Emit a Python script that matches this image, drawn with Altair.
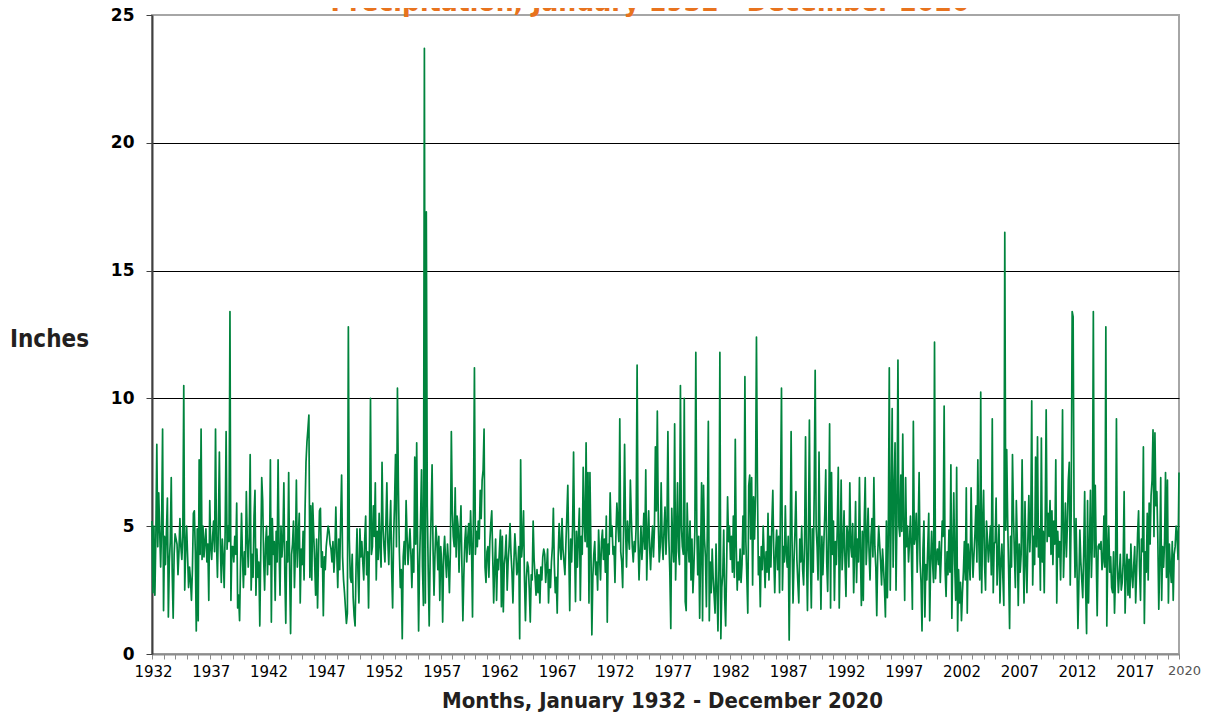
import altair as alt
import pandas as pd

# Monthly precipitation (inches), January 1932 - December 2020
precip_1930s = [
    5.2, 2.4, 5.0, 2.3, 4.6, 8.2, 4.2, 6.3, 4.8, 3.4, 5.0, 8.8,   # 1932
    1.7, 4.6, 3.5, 4.8, 6.1, 1.45, 3.6, 4.4, 6.9, 3.2, 1.4, 3.9,  # 1933
    4.7, 4.5, 4.3, 3.1, 4.0, 5.3, 4.2, 3.7, 4.6, 10.5, 2.5, 4.1,  # 1934
    5.0, 3.8, 2.6, 3.4, 2.9, 2.1, 3.3, 5.5, 5.6, 4.0, 0.9, 4.9,   # 1935
    1.3, 7.6, 3.9, 8.8, 3.7, 5.0, 3.8, 4.4, 4.9, 3.6, 4.3, 2.1,   # 1936
    6.0, 4.2, 3.7, 4.6, 5.2, 4.0, 8.8, 4.4, 3.0, 5.1, 7.9, 4.3,   # 1937
    2.8, 4.5, 3.8, 2.6, 4.8, 8.7, 4.1, 5.0, 4.4, 13.4, 2.1, 4.2,  # 1938
    4.2, 3.6, 4.6, 3.9, 5.9, 1.8, 2.3, 1.3, 3.5, 5.5, 3.8, 2.6,   # 1939
]
precip_1940s = [
    4.0, 3.1, 6.35, 4.5, 3.4, 4.6, 7.8, 2.5, 3.9, 3.0, 5.4, 6.4,  # 1940
    2.3, 4.1, 3.0, 3.6, 1.1, 4.0, 6.9, 6.0, 3.7, 2.5, 4.3, 5.0,   # 1941
    3.1, 4.6, 3.5, 7.6, 1.25, 5.3, 3.9, 4.4, 2.1, 4.8, 3.6, 7.6,  # 1942
    4.2, 2.3, 5.0, 3.8, 4.5, 6.7, 3.1, 1.2, 4.4, 3.6, 7.1, 3.3,   # 1943
    0.8, 3.9, 4.3, 5.2, 2.6, 4.0, 6.8, 3.4, 4.6, 5.5, 2.0, 4.1,   # 1944
    3.5, 4.8, 2.9, 5.6, 7.5, 8.3, 8.8, 9.35, 3.0, 5.8, 2.9, 5.9,  # 1945
    4.7, 3.6, 2.3, 4.5, 1.8, 3.9, 5.6, 5.7, 3.4, 4.0, 1.5, 3.8,   # 1946
    3.3, 4.2, 4.6, 5.0, 4.8, 4.3, 4.1, 3.6, 4.4, 3.2, 4.0, 5.75,  # 1947
    3.9, 2.6, 4.5, 3.3, 5.2, 7.0, 3.8, 2.9, 2.4, 1.8, 1.2, 1.6,   # 1948
    12.8, 4.5, 3.0, 2.8, 3.9, 2.2, 1.5, 1.1, 3.4, 4.9, 3.2, 2.0,  # 1949
]
precip_1950s = [
    4.9, 3.8, 4.4, 3.6, 2.9, 4.5, 5.4, 3.1, 4.0, 1.8, 4.6, 10.0,  # 1950
    3.9, 4.2, 5.8, 4.6, 6.7, 2.9, 4.8, 3.7, 5.5, 4.2, 3.4, 7.5,   # 1951
    5.0, 4.2, 3.6, 5.1, 6.7, 4.4, 3.5, 4.8, 6.0, 3.3, 1.8, 4.5,   # 1952
    5.9, 7.8, 4.2, 10.4, 6.5, 4.0, 2.6, 3.3, 0.6, 3.8, 4.4, 3.5,  # 1953
    6.0, 4.6, 3.5, 4.2, 4.9, 3.9, 2.6, 4.1, 3.2, 7.7, 4.3, 8.26,  # 1954
    4.0, 0.9, 3.6, 5.2, 7.2, 3.4, 1.9, 23.7, 2.0, 17.3, 5.8, 3.2, # 1955
    1.1, 3.8, 5.5, 7.4, 4.1, 2.3, 3.9, 5.0, 4.4, 3.3, 4.6, 2.1,   # 1956
    4.2, 3.5, 1.25, 3.9, 4.6, 3.7, 3.0, 4.3, 3.6, 2.4, 4.0, 8.7,  # 1957
    5.6, 4.6, 4.2, 6.5, 3.8, 5.4, 5.0, 3.2, 4.7, 5.8, 3.4, 1.3,   # 1958
    3.1, 4.4, 5.0, 3.6, 4.5, 5.1, 3.9, 5.6, 4.2, 1.45, 5.7, 11.2, # 1959
]
precip_1960s = [
    3.9, 4.8, 4.2, 5.2, 4.5, 6.4, 5.3, 6.8, 7.2, 8.8, 3.4, 2.8,   # 1960
    4.0, 4.2, 3.0, 4.4, 5.1, 5.6, 3.8, 2.0, 3.4, 4.5, 2.1, 3.7,   # 1961
    3.3, 4.1, 4.85, 1.85, 4.6, 1.65, 3.5, 3.9, 4.65, 2.5, 3.6, 4.2,  # 1962
    5.1, 3.9, 3.2, 2.0, 3.6, 4.7, 4.0, 3.1, 3.3, 4.2, 0.6, 7.6,   # 1963
    3.8, 4.4, 5.6, 2.9, 1.3, 3.0, 3.6, 3.4, 2.5, 1.25, 3.1, 2.9,  # 1964
    5.2, 3.7, 3.0, 2.3, 3.3, 2.4, 3.1, 2.0, 3.4, 2.9, 3.8, 4.1,   # 1965
    3.9, 2.8, 3.4, 4.1, 2.0, 3.3, 2.6, 3.6, 4.2, 5.7, 3.5, 2.4,   # 1966
    3.0, 1.6, 3.8, 5.1, 4.2, 3.7, 5.3, 4.1, 3.6, 3.1, 4.3, 5.4,   # 1967
    6.6, 4.0, 1.7, 4.5, 3.6, 5.0, 7.9, 4.3, 2.05, 4.8, 3.4, 4.6,  # 1968
    5.7, 2.1, 4.6, 3.9, 7.3, 5.2, 4.4, 8.26, 4.2, 7.1, 2.0, 7.1,  # 1969
]
precip_1970s = [
    4.2, 0.75, 3.0, 3.9, 4.4, 3.1, 3.6, 2.5, 4.85, 3.8, 2.9, 4.4, # 1970
    4.85, 3.7, 4.5, 3.2, 5.4, 1.25, 4.3, 3.9, 6.3, 4.6, 5.0, 3.9, # 1971
    4.2, 2.8, 4.7, 5.9, 5.1, 4.4, 9.2, 4.0, 3.6, 2.6, 5.0, 8.2,   # 1972
    4.9, 3.4, 5.2, 4.6, 4.1, 6.8, 5.3, 4.2, 3.6, 4.4, 4.0, 5.0,   # 1973
    11.3, 4.5, 2.9, 4.0, 5.0, 3.7, 4.4, 5.5, 4.1, 7.2, 2.9, 4.6,  # 1974
    5.6, 4.2, 3.3, 4.3, 5.0, 3.8, 4.9, 8.1, 5.6, 9.5, 5.2, 3.6,   # 1975
    4.2, 6.7, 4.4, 3.7, 4.9, 5.75, 3.9, 5.0, 8.7, 4.5, 3.2, 1.0,  # 1976
    5.7, 4.3, 3.6, 9.0, 2.9, 4.6, 6.7, 4.0, 3.5, 10.5, 5.0, 4.2,  # 1977
    3.9, 10.0, 2.05, 1.7, 5.9, 4.3, 3.6, 5.2, 2.9, 4.5, 2.4, 3.4, # 1978
    4.8, 11.8, 5.0, 3.1, 4.6, 1.4, 4.0, 6.7, 1.3, 6.6, 4.5, 3.8,  # 1979
]
precip_1980s = [
    1.85, 5.0, 9.1, 1.3, 3.6, 2.4, 4.1, 3.0, 2.3, 1.6, 4.3, 2.6,  # 1980
    0.9, 3.3, 11.8, 0.6, 2.6, 3.1, 4.85, 2.2, 1.1, 3.4, 6.15, 4.4,  # 1981
    5.0, 3.7, 4.6, 3.2, 5.4, 3.0, 8.4, 4.2, 2.5, 3.6, 2.9, 4.1,   # 1982
    2.8, 3.5, 5.4, 3.9, 10.85, 4.4, 3.0, 1.6, 6.6, 7.0, 4.5, 6.9, # 1983
    2.7, 6.15, 4.5, 6.2, 12.4, 6.7, 3.1, 3.8, 1.85, 4.2, 3.3, 5.0,  # 1984
    3.8, 2.6, 4.0, 3.2, 5.5, 2.9, 4.6, 3.4, 5.1, 6.4, 3.9, 2.4,   # 1985
    4.0, 4.85, 3.3, 4.6, 2.4, 6.0, 10.4, 2.5, 4.2, 3.6, 5.8, 3.9, # 1986
    3.4, 4.6, 0.55, 3.9, 8.7, 4.4, 2.0, 3.6, 4.8, 6.35, 3.7, 2.8, # 1987
    2.0, 4.5, 3.6, 5.0, 3.3, 2.7, 4.4, 8.5, 3.9, 1.7, 4.6, 9.15,  # 1988
    3.8, 1.8, 4.9, 3.2, 6.3, 11.1, 5.0, 4.2, 2.9, 7.9, 4.3, 1.75, # 1989
]
precip_1990s = [
    4.6, 3.1, 4.3, 5.5, 7.2, 3.6, 2.45, 4.8, 9.0, 1.8, 7.1, 3.9,  # 1990
    5.2, 2.1, 4.4, 3.5, 5.0, 7.3, 1.8, 3.9, 6.8, 3.3, 4.2, 5.6,   # 1991
    3.6, 2.25, 5.0, 4.65, 3.4, 6.7, 4.2, 3.8, 5.1, 2.4, 4.0, 5.96,  # 1992
    2.8, 4.5, 3.6, 6.9, 4.0, 1.9, 4.8, 2.1, 5.2, 6.9, 3.5, 4.4,   # 1993
    5.7, 4.0, 2.9, 4.6, 5.3, 3.8, 6.9, 4.2, 3.4, 1.5, 3.9, 5.0,   # 1994
    4.3, 3.6, 2.7, 4.1, 3.4, 2.6, 1.45, 5.2, 2.2, 4.7, 11.2, 2.5, # 1995
    5.5, 9.6, 3.4, 6.4, 8.26, 2.5, 5.4, 11.5, 5.0, 4.6, 7.0, 4.8, # 1996
    8.6, 4.9, 2.1, 6.9, 4.2, 5.0, 3.6, 4.4, 5.4, 3.9, 1.75, 9.1,  # 1997
    4.3, 4.6, 5.5, 3.2, 4.8, 7.1, 3.6, 2.8, 0.9, 4.1, 5.2, 1.45,  # 1998
    3.5, 2.9, 4.2, 5.5, 1.3, 3.6, 4.8, 3.55, 2.8, 12.2, 2.95, 3.8,  # 1999
]
precip_2000s = [
    4.1, 3.5, 4.4, 2.8, 3.9, 5.2, 4.6, 9.7, 3.3, 2.25, 4.0, 3.1,  # 2000
    4.85, 3.2, 7.4, 1.4, 4.0, 6.3, 3.5, 2.1, 7.3, 0.9, 3.3, 2.0,  # 2001
    2.8, 1.3, 2.4, 3.2, 4.4, 2.9, 6.5, 1.6, 4.3, 3.7, 2.9, 6.5,   # 2002
    4.2, 3.0, 3.9, 4.7, 5.8, 3.6, 7.6, 4.4, 2.9, 10.25, 2.4, 5.0, # 2003
    6.4, 3.5, 2.5, 5.2, 4.5, 3.6, 4.2, 5.0, 3.1, 9.2, 2.4, 4.3,   # 2004
    4.4, 6.1, 2.7, 3.8, 5.05, 2.0, 3.6, 4.3, 3.0, 1.9, 16.5, 4.85,  # 2005
    8.0, 5.2, 3.3, 1.0, 4.6, 3.4, 7.8, 5.5, 3.9, 2.6, 6.0, 4.4,   # 2006
    1.9, 4.3, 3.2, 3.9, 7.6, 4.5, 2.0, 5.96, 3.6, 2.4, 4.5, 6.2,  # 2007
    4.0, 5.1, 9.9, 2.7, 4.6, 3.5, 7.7, 4.2, 8.5, 3.8, 4.9, 2.5,   # 2008
    8.45, 3.6, 4.8, 2.4, 5.3, 9.55, 4.4, 5.5, 4.6, 6.0, 3.9, 5.6, # 2009
]
precip_2010s = [
    3.5, 5.2, 4.3, 7.6, 2.0, 4.8, 3.8, 4.4, 2.9, 5.1, 9.55, 3.0,  # 2010
    4.4, 5.9, 3.8, 5.0, 6.8, 7.5, 2.7, 5.6, 13.4, 13.2, 5.3, 3.0, # 2011
    5.3, 3.4, 1.0, 2.8, 4.85, 3.6, 2.9, 2.2, 4.0, 6.35, 2.6, 0.8, # 2012
    6.0, 2.0, 4.1, 6.4, 3.0, 4.5, 13.4, 3.8, 6.6, 3.9, 1.5, 4.2,  # 2013
    4.3, 4.1, 4.4, 3.3, 3.6, 5.4, 3.4, 12.8, 1.1, 3.9, 5.0, 3.2,  # 2014
    3.8, 2.6, 2.4, 4.0, 1.6, 3.0, 9.2, 3.5, 2.4, 3.1, 3.9, 2.5,   # 2015
    2.8, 3.6, 6.35, 1.6, 3.2, 3.9, 2.3, 3.7, 2.2, 4.3, 3.1, 2.6,  # 2016
    3.5, 4.2, 2.0, 3.3, 4.7, 5.6, 3.4, 2.1, 4.5, 4.0, 8.1, 1.2,   # 2017
    4.0, 3.2, 5.5, 2.9, 5.9, 4.3, 6.2, 6.8, 8.77, 4.6, 8.65, 5.8, # 2018
    6.35, 4.5, 1.75, 3.6, 6.9, 2.1, 4.2, 3.4, 4.4, 7.1, 3.0, 6.8, # 2019
]
precip_2020 = [2.0, 4.3, 3.4, 2.8, 4.4, 2.1, 3.9, 4.2, 5.0, 4.6, 3.7, 7.1]

precip = (precip_1930s + precip_1940s + precip_1950s + precip_1960s +
          precip_1970s + precip_1980s + precip_1990s + precip_2000s +
          precip_2010s + precip_2020)

first_year = 1932
last_year = 2020
n_months = len(precip)

y_ticks = [0, 5, 10, 15, 20, 25]
x_ticks = list(range(0, n_months - 11, 12)) + [n_months - 1]

chart_title = "Precipitation, January 1932 - December 2020"
x_title = "Months, January 1932 - December 2020"
y_title = "Inches"

df = pd.DataFrame({"month": list(range(n_months)), "inches": precip})
title_df = pd.DataFrame({"t": [chart_title]})

heavy_font = "DejaVu Sans Condensed, sans-serif"
last_test = f"datum.value >= {n_months - 1}"

label_expr = (
    f"datum.value >= {n_months - 1} ? '{last_year}' : "
    f"((datum.value / 12) % 5 == 0 ? toString({first_year} + datum.value / 12) : '')"
)

line = alt.Chart(df).mark_line(
    color="#00843d", strokeWidth=1.7, strokeJoin="round"
).encode(
    x=alt.X(
        "month:Q",
        scale=alt.Scale(domain=[0, n_months - 1], nice=False, zero=False),
        axis=alt.Axis(
            values=x_ticks,
            labelExpr=label_expr,
            labelOverlap=False,
            labelFlush=False,
            grid=False,
            domainColor="#8c8c8c",
            domainWidth=2,
            tickColor="#8c8c8c",
            tickSize=5,
            tickWidth=1,
            labelFont="DejaVu Sans",
            labelFontSize={"condition": {"test": last_test, "value": 13}, "value": 15},
            labelColor={"condition": {"test": last_test, "value": "#555555"}, "value": "#000000"},
            labelOffset={"condition": {"test": last_test, "value": 5}, "value": 1},
            labelPadding=5,
            title=x_title,
            titleFont=heavy_font,
            titleFontSize=22,
            titleFontWeight="bold",
            titleColor="#231f20",
            titleX=510,
            titleY=53,
            titleAlign="center",
            titleBaseline="alphabetic",
        ),
    ),
    y=alt.Y(
        "inches:Q",
        scale=alt.Scale(domain=[0, 25], nice=False, zero=True),
        axis=alt.Axis(
            values=y_ticks,
            grid=True,
            gridColor={"condition": {"test": "datum.value == 0 || datum.value == 25", "value": "transparent"}, "value": "#000000"},
            gridWidth=1,
            domainColor="#404040",
            domainWidth=2,
            tickColor="#404040",
            tickSize=6,
            labelFont="DejaVu Sans",
            labelFontWeight="bold",
            labelFontSize=17,
            labelColor="#000000",
            labelPadding=12,
            title=y_title,
            titleFont=heavy_font,
            titleFontSize=24,
            titleFontWeight="bold",
            titleColor="#231f20",
            titleAngle=0,
            titleX=-103,
            titleY=324,
            titleAlign="center",
            titleBaseline="middle",
        ),
    ),
)

title = alt.Chart(title_df).mark_text(
    font=heavy_font,
    fontSize=28,
    fontWeight="bold",
    color="#e8731e",
    align="center",
    baseline="alphabetic",
).encode(
    x=alt.value(498),
    y=alt.value(-4),
    text="t:N",
)

chart = alt.layer(line, title).properties(
    width=1027,
    height=639,
    autosize=alt.AutoSizeParams(type="none"),
    padding={"left": 144, "top": 7, "right": 23, "bottom": 60},
    background="white",
).configure_view(
    stroke="#a6a6a6",
    strokeWidth=2,
)

chart.save("out.html", embed_options={"renderer": "svg", "actions": False})
